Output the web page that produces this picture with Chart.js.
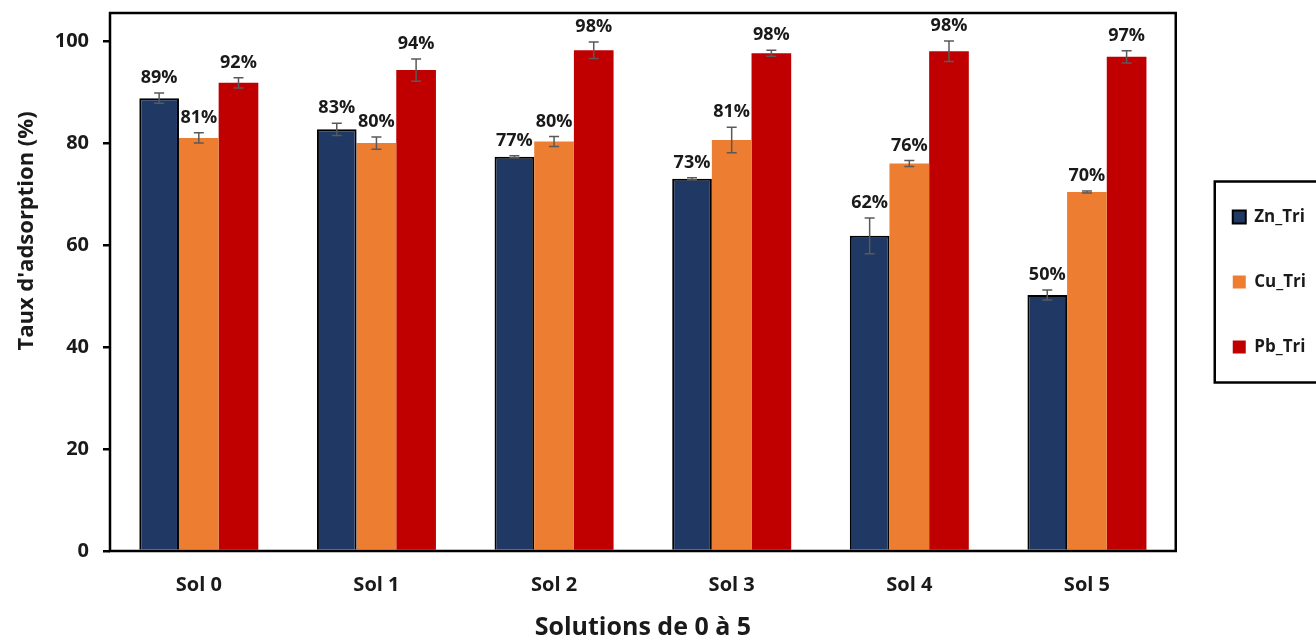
<!DOCTYPE html>
<html>
<head>
<meta charset="utf-8">
<script src="https://cdn.jsdelivr.net/npm/chart.js@4.4.1/dist/chart.umd.min.js"></script>
<style>
  html, body { margin: 0; padding: 0; background: #fff; }
  #wrap { width: 1316px; height: 643px; }
</style>
</head>
<body>
<div id="wrap"><canvas id="chart"></canvas></div>
<script>
// Données
const categories = ["Sol 0", "Sol 1", "Sol 2", "Sol 3", "Sol 4", "Sol 5"];
const znTri = [88.8, 82.7, 77.3, 73.0, 61.8, 50.2];
const cuTri = [81.0, 80.0, 80.3, 80.6, 76.0, 70.4];
const pbTri = [91.8, 94.3, 98.2, 97.6, 98.0, 96.9];
const znErr = [1.0, 1.2, 0.2, 0.2, 3.5, 1.0];
const cuErr = [1.0, 1.2, 1.0, 2.5, 0.6, 0.2];
const pbErr = [1.0, 2.2, 1.6, 0.6, 2.0, 1.2];
const yTicks = [0, 20, 40, 60, 80, 100];

const FONT = "'Open Sans', 'DejaVu Sans', sans-serif";
const errors = [znErr, cuErr, pbErr];

// Barres d'erreur + étiquettes de pourcentage
const errorBarsPlugin = {
  id: "errorBars",
  afterDatasetsDraw(chart) {
    const ctx = chart.ctx;
    const y = chart.scales.y;
    chart.data.datasets.forEach((ds, di) => {
      const meta = chart.getDatasetMeta(di);
      meta.data.forEach((bar, i) => {
        const v = ds.data[i];
        const e = errors[di][i];
        const yTop = y.getPixelForValue(v + e);
        const yBot = y.getPixelForValue(v - e);
        ctx.save();
        ctx.strokeStyle = "#595959";
        ctx.lineWidth = 1.5;
        ctx.beginPath();
        ctx.moveTo(bar.x, yTop);
        ctx.lineTo(bar.x, yBot);
        ctx.moveTo(bar.x - 5, yTop);
        ctx.lineTo(bar.x + 5, yTop);
        ctx.moveTo(bar.x - 5, yBot);
        ctx.lineTo(bar.x + 5, yBot);
        ctx.stroke();
        ctx.fillStyle = "#1a1a1a";
        ctx.font = "bold 18px " + FONT;
        ctx.textAlign = "center";
        ctx.textBaseline = "bottom";
        ctx.fillText(Math.round(v) + "%", bar.x, Math.min(yTop, bar.y) - 6);
        ctx.restore();
      });
    });
  },
};

// Cadre du graphique, de la légende et titre de l'axe Y
const framePlugin = {
  id: "frame",
  afterDraw(chart) {
    const ctx = chart.ctx;
    const a = chart.chartArea;
    ctx.save();
    ctx.strokeStyle = "#000";
    ctx.lineWidth = 2.5;
    ctx.strokeRect(a.left, a.top, a.right - a.left, a.bottom - a.top);
    const boxes = chart.legend.legendHitBoxes;
    if (boxes && boxes.length) {
      const first = boxes[0];
      const last = boxes[boxes.length - 1];
      const left = first.left - 18;
      const top = first.top - 27;
      const bottom = last.top + last.height + 27;
      ctx.strokeRect(left, top, chart.width + 10 - left, bottom - top);
    }
    ctx.translate(27, 231);
    ctx.rotate(-Math.PI / 2);
    ctx.fillStyle = "#1a1a1a";
    ctx.font = "bold 22px " + FONT;
    ctx.textAlign = "center";
    ctx.textBaseline = "middle";
    ctx.fillText("Taux d'adsorption (%)", 0, 0);
    ctx.restore();
  },
};

new Chart(document.getElementById("chart"), {
  type: "bar",
  data: {
    labels: categories,
    datasets: [
      { label: "Zn_Tri", data: znTri, backgroundColor: "#1f3864", borderColor: "#000", borderWidth: 2, borderSkipped: "bottom" },
      { label: "Cu_Tri", data: cuTri, backgroundColor: "#ed7d31", borderWidth: 0 },
      { label: "Pb_Tri", data: pbTri, backgroundColor: "#c00000", borderWidth: 0 },
    ],
  },
  options: {
    responsive: true,
    maintainAspectRatio: false,
    animation: false,
    layout: { padding: { top: 13, left: 0, right: 0, bottom: 0 } },
    datasets: { bar: { categoryPercentage: 0.67, barPercentage: 1.0 } },
    plugins: {
      tooltip: { enabled: false },
      legend: {
        position: "right",
        align: "center",
        fullSize: false,
        labels: {
          color: "#1a1a1a",
          font: { family: FONT, size: 17, weight: "bold" },
          boxWidth: 13,
          boxHeight: 13,
          padding: 48,
        },
      },
    },
    scales: {
      x: {
        grid: { display: false },
        border: { display: false },
        ticks: { color: "#1a1a1a", font: { family: FONT, size: 20, weight: "bold" }, padding: 14 },
        title: {
          display: true,
          text: "Solutions de 0 à 5",
          color: "#1a1a1a",
          font: { family: FONT, size: 25, weight: "bold" },
          padding: { top: 10, bottom: 0 },
        },
        afterFit(scale) { scale.height = 92; },
      },
      y: {
        min: 0,
        max: 105.5,
        grid: { display: true, drawOnChartArea: false, drawTicks: true, tickLength: 7, color: "#000", lineWidth: 2.5 },
        border: { display: false },
        afterBuildTicks(scale) { scale.ticks = yTicks.map((v) => ({ value: v })); },
        ticks: { color: "#1a1a1a", font: { family: FONT, size: 20, weight: "bold" }, padding: 14 },
        afterFit(scale) {
          scale.width = 110;
          scale.paddingTop = 0;
          scale.paddingBottom = 0;
        },
      },
      gap: {
        position: "right",
        display: true,
        grid: { display: false },
        border: { display: false },
        ticks: { display: false },
        afterFit(scale) { scale.width = 9; },
      },
    },
  },
  plugins: [errorBarsPlugin, framePlugin],
});
</script>
</body>
</html>
